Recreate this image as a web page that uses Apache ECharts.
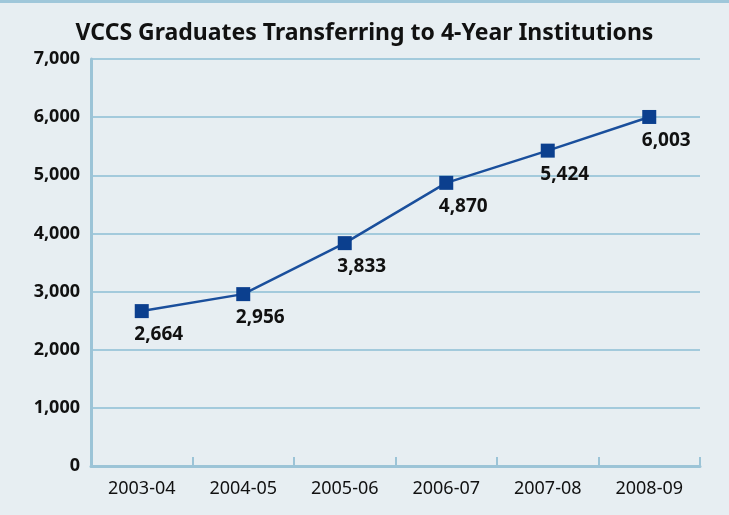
<!DOCTYPE html>
<html>
<head>
<meta charset="utf-8">
<script src="https://cdn.jsdelivr.net/npm/echarts@6/dist/echarts.min.js"></script>
<style>
    html, body { margin: 0; padding: 0; background: #e7eef2; }
    #chart { width: 729px; height: 515px; }
</style>
</head>
<body>
<div id="chart"></div>
<script>
    // 数据
    const years = ['2003-04', '2004-05', '2005-06', '2006-07', '2007-08', '2008-09'];
    const graduates = [2664, 2956, 3833, 4870, 5424, 6003];

    const chart = echarts.init(document.getElementById('chart'));
    const font = '"Noto Sans", "Open Sans", sans-serif';
    const option = {
        backgroundColor: '#e7eef2',
        textStyle: { fontFamily: font },
        title: {
            text: 'VCCS Graduates Transferring to 4-Year Institutions',
            left: 'center',
            top: 17,
            textStyle: { fontSize: 23, fontWeight: 'bold', color: '#111', fontFamily: font }
        },
        graphic: [{
            type: 'rect',
            shape: { x: 0, y: 0, width: 729, height: 3 },
            style: { fill: '#9fc7da' }
        }],
        grid: { left: 91, right: 29, top: 59, bottom: 49 },
        xAxis: {
            type: 'category',
            data: years,
            boundaryGap: true,
            axisLine: { lineStyle: { color: '#9cc4d7', width: 3 } },
            axisTick: { show: true, inside: true, length: 9, lineStyle: { color: '#9cc4d7', width: 2 } },
            axisLabel: { color: '#111', fontSize: 18, margin: 14 }
        },
        yAxis: {
            type: 'value',
            min: 0,
            max: 7000,
            interval: 1000,
            axisLine: { show: true, lineStyle: { color: '#9cc4d7', width: 3 } },
            axisTick: { show: false },
            splitLine: { lineStyle: { color: '#a3cadc', width: 2 } },
            axisLabel: {
                color: '#111', fontSize: 18, fontWeight: 'bold', margin: 11,
                formatter: v => v.toLocaleString('en-US')
            }
        },
        series: [{
            type: 'line',
            data: graduates,
            symbol: 'rect',
            symbolSize: 14,
            itemStyle: { color: '#0b3f8e' },
            lineStyle: { color: '#1a4f9c', width: 2.5 },
            label: {
                show: true,
                position: 'bottom',
                distance: 7,
                offset: [17, 0],
                color: '#111',
                fontSize: 19,
                fontWeight: 'bold',
                formatter: p => p.value.toLocaleString('en-US')
            },
            animation: false
        }]
    };
    chart.setOption(option);
</script>
</body>
</html>
